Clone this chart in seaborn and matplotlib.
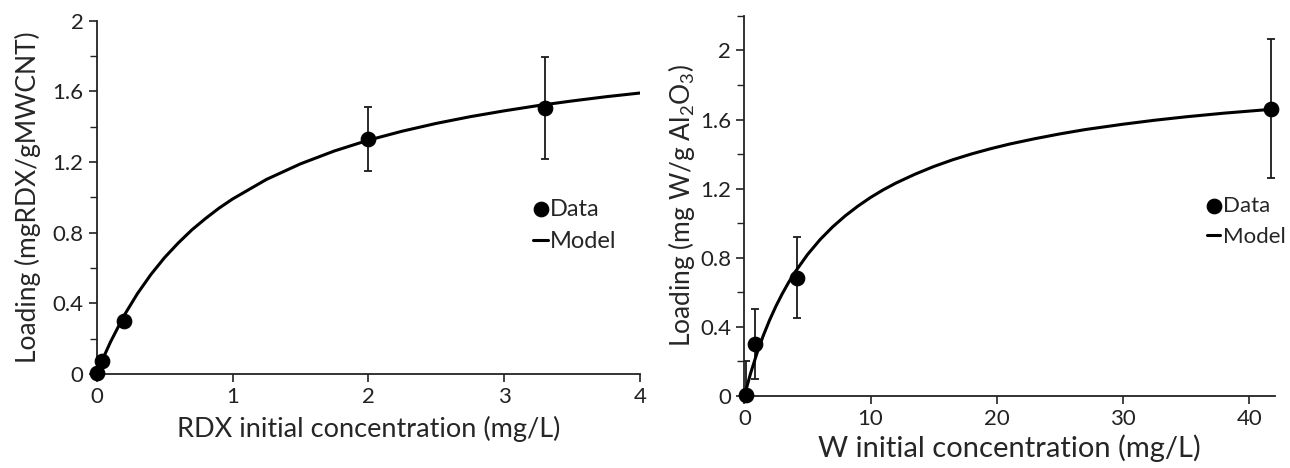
import matplotlib
matplotlib.use("Agg")
import matplotlib.pyplot as plt
import seaborn as sns

# left panel: RDX on MWCNT
rdx_conc = [0.0, 0.04, 0.2, 2.0, 3.3]
rdx_load = [0.008, 0.074, 0.30, 1.332, 1.504]
rdx_err_lo = [0.0, 0.0, 0.0, 0.181, 0.289]
rdx_err_hi = [0.0, 0.0, 0.0, 0.181, 0.292]
rdx_model_x = [0, 0.05, 0.1, 0.2, 0.3, 0.4, 0.5, 0.6, 0.7, 0.8, 0.9, 1.0, 1.25, 1.5, 1.75,
               2.0, 2.25, 2.5, 2.75, 3.0, 3.25, 3.5, 3.75, 4.0]
rdx_model_y = [0, 0.094, 0.179, 0.329, 0.455, 0.564, 0.659, 0.741, 0.815, 0.879, 0.938, 0.99,
               1.101, 1.189, 1.262, 1.323, 1.374, 1.418, 1.456, 1.489, 1.519, 1.545, 1.569, 1.59]

# right panel: W on Al2O3
w_conc = [0.1, 0.86, 4.19, 41.75]
w_load = [0.005, 0.303, 0.68, 1.662]
w_err_lo = [0.005, 0.203, 0.228, 0.398]
w_err_hi = [0.198, 0.199, 0.238, 0.406]
w_model_x = [0, 0.5, 1, 1.5, 2, 2.5, 3, 3.5, 4, 5, 6, 7, 8, 9, 10, 11, 12, 13.5, 15, 16.5,
             18, 19.5, 21, 23, 25, 27, 30, 32.5, 35, 38, 41.7]
w_model_y = [0, 0.132, 0.247, 0.349, 0.439, 0.519, 0.591, 0.656, 0.715, 0.818, 0.905, 0.979,
             1.043, 1.099, 1.149, 1.193, 1.232, 1.283, 1.328, 1.367, 1.401, 1.431, 1.458,
             1.489, 1.517, 1.542, 1.573, 1.596, 1.616, 1.637, 1.659]

sns.set_style("ticks")
plt.rcParams['font.family'] = ['Lato', 'DejaVu Sans']
plt.rcParams['mathtext.default'] = 'regular'

fig = plt.figure(figsize=(12.9, 4.68), dpi=100)
ax1 = fig.add_axes([0.075, 0.201, 0.421, 0.755])
ax2 = fig.add_axes([0.577, 0.154, 0.411, 0.812])


def draw_panel(ax, cx, cy, elo, ehi, mx, my):
    ax.errorbar(cx, cy, yerr=[elo, ehi], fmt='none', ecolor='#1a1a1a',
                elinewidth=1.3, capsize=3, capthick=1.3, zorder=2)
    sns.lineplot(x=mx, y=my, ax=ax, color='black', linewidth=2.2,
                 label='Model', zorder=3, sort=False)
    sns.scatterplot(x=cx, y=cy, ax=ax, color='black', s=110, edgecolor='black',
                    label='Data', zorder=4, clip_on=False)
    for side in ['top', 'right']:
        ax.spines[side].set_visible(False)
    for side in ['left', 'bottom']:
        ax.spines[side].set_linewidth(1.3)
        ax.spines[side].set_color('#222222')
    ax.tick_params(which='major', length=6, width=1.2, labelsize=16, colors='#222222')
    ax.tick_params(which='minor', length=5, width=1.0, colors='#222222')
    handles, labels = ax.get_legend_handles_labels()
    order = [labels.index('Data'), labels.index('Model')]
    return [handles[i] for i in order], [labels[i] for i in order]


h, l = draw_panel(ax1, rdx_conc, rdx_load, rdx_err_lo, rdx_err_hi, rdx_model_x, rdx_model_y)
ax1.set_xlim(0, 4)
ax1.set_ylim(0, 2)
ax1.set_xticks([0, 1, 2, 3, 4])
ax1.set_yticks([0, 0.4, 0.8, 1.2, 1.6, 2.0])
ax1.set_yticklabels(['0', '0.4', '0.8', '1.2', '1.6', '2'])
ax1.set_yticks([0.2, 0.6, 1.0, 1.4, 1.8], minor=True)
ax1.set_xlabel('RDX initial concentration (mg/L)', fontsize=19.5, labelpad=6)
ax1.set_ylabel('Loading (mgRDX/gMWCNT)', fontsize=19, labelpad=8)
ax1.legend(h, l, loc='center left', bbox_to_anchor=(0.765, 0.42), frameon=False,
           fontsize=17, handlelength=0.6, handletextpad=0.1, labelspacing=0.5)

h, l = draw_panel(ax2, w_conc, w_load, w_err_lo, w_err_hi, w_model_x, w_model_y)
ax2.set_xlim(0, 42)
ax2.set_ylim(0, 2.2)
ax2.set_xticks([0, 10, 20, 30, 40])
ax2.set_yticks([0, 0.4, 0.8, 1.2, 1.6, 2.0])
ax2.set_yticklabels(['0', '0.4', '0.8', '1.2', '1.6', '2'])
ax2.set_yticks([0.2, 0.6, 1.0, 1.4, 1.8, 2.2], minor=True)
ax2.set_xlabel('W initial concentration (mg/L)', fontsize=21, labelpad=4)
ax2.set_ylabel('Loading (mg W/g Al$_2$O$_3$)', fontsize=19, labelpad=2)
ax2.legend(h, l, loc='center left', bbox_to_anchor=(0.835, 0.46), frameon=False,
           fontsize=16, handlelength=0.6, handletextpad=0.1, labelspacing=0.5)

fig.savefig('out.png', dpi=100)
